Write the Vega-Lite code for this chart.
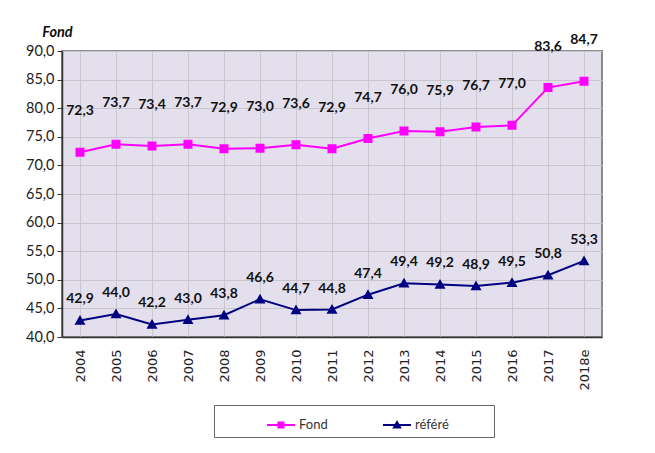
{
  "$schema": "https://vega.github.io/schema/vega-lite/v6.json",
  "autosize": "none",
  "width": 540,
  "height": 286,
  "padding": {"left": 62, "top": 51, "right": 53, "bottom": 116},
  "background": "white",
  "config": {
    "locale": {"number": {"decimal": ",", "thousands": " ", "grouping": [3], "currency": ["", " €"]}},
    "view": {"fill": "#E4DFEC", "stroke": "#8a8a8a", "strokeWidth": 2},
    "font": "Lato"
  },
  "data": {
    "values": [
      {"year": "2004", "series": "Fond", "value": 72.3},
      {"year": "2005", "series": "Fond", "value": 73.7},
      {"year": "2006", "series": "Fond", "value": 73.4},
      {"year": "2007", "series": "Fond", "value": 73.7},
      {"year": "2008", "series": "Fond", "value": 72.9},
      {"year": "2009", "series": "Fond", "value": 73.0},
      {"year": "2010", "series": "Fond", "value": 73.6},
      {"year": "2011", "series": "Fond", "value": 72.9},
      {"year": "2012", "series": "Fond", "value": 74.7},
      {"year": "2013", "series": "Fond", "value": 76.0},
      {"year": "2014", "series": "Fond", "value": 75.9},
      {"year": "2015", "series": "Fond", "value": 76.7},
      {"year": "2016", "series": "Fond", "value": 77.0},
      {"year": "2017", "series": "Fond", "value": 83.6},
      {"year": "2018e", "series": "Fond", "value": 84.7},
      {"year": "2004", "series": "référé", "value": 42.9},
      {"year": "2005", "series": "référé", "value": 44.0},
      {"year": "2006", "series": "référé", "value": 42.2},
      {"year": "2007", "series": "référé", "value": 43.0},
      {"year": "2008", "series": "référé", "value": 43.8},
      {"year": "2009", "series": "référé", "value": 46.6},
      {"year": "2010", "series": "référé", "value": 44.7},
      {"year": "2011", "series": "référé", "value": 44.8},
      {"year": "2012", "series": "référé", "value": 47.4},
      {"year": "2013", "series": "référé", "value": 49.4},
      {"year": "2014", "series": "référé", "value": 49.2},
      {"year": "2015", "series": "référé", "value": 48.9},
      {"year": "2016", "series": "référé", "value": 49.5},
      {"year": "2017", "series": "référé", "value": 50.8},
      {"year": "2018e", "series": "référé", "value": 53.3}
    ]
  },
  "encoding": {
    "x": {
      "field": "year", "type": "ordinal",
      "scale": {"type": "point", "padding": 0.5},
      "axis": {
        "title": null, "labelAngle": -90, "labelFont": "DejaVu Sans", "labelFontSize": 13,
        "labelColor": "#222", "ticks": false, "labelPadding": 12,
        "domainColor": "#333", "domainWidth": 1.5,
        "grid": true, "gridColor": "#c9c6ce", "gridWidth": 1
      }
    },
    "y": {
      "field": "value", "type": "quantitative",
      "scale": {"domain": [40, 90], "nice": false, "zero": false},
      "axis": {
        "values": [40, 45, 50, 55, 60, 65, 70, 75, 80, 85, 90],
        "format": ".1f",
        "title": "Fond", "titleAngle": 0, "titleAlign": "center", "titleBaseline": "alphabetic",
        "titleX": -5, "titleY": -15, "titleFont": "Lato", "titleFontSize": 14.5,
        "titleFontWeight": "bold", "titleFontStyle": "italic", "titleColor": "#111",
        "labelFont": "Lato", "labelFontSize": 14.5, "labelColor": "#222", "labelPadding": 3,
        "tickSize": 5, "tickColor": "#333", "domainColor": "#333", "domainWidth": 1.5,
        "grid": true, "gridColor": "#c9c6ce", "gridWidth": 1
      }
    }
  },
  "layer": [
    {
      "mark": {"type": "line", "strokeWidth": 2},
      "encoding": {
        "stroke": {
          "field": "series", "type": "nominal",
          "scale": {"domain": ["Fond", "référé"], "range": ["#FF00FF", "#000080"]}
        }
      }
    },
    {
      "mark": {"type": "point", "filled": true, "opacity": 1, "size": 2500, "strokeWidth": 0},
      "encoding": {
        "fill": {
          "field": "series", "type": "nominal",
          "scale": {"domain": ["Fond", "référé"], "range": ["#FF00FF", "#000080"]}
        },
        "stroke": {
          "field": "series", "type": "nominal"
        },
        "shape": {
          "field": "series", "type": "nominal",
          "scale": {"domain": ["Fond", "référé"], "range": ["M-1,0H1M-0.18,-0.18H0.18V0.18H-0.18Z", "M-1,0H1M0,-0.22L0.22,0.17H-0.22Z"]},
          "legend": {
            "orient": "none", "legendX": 152, "legendY": 354, "direction": "horizontal",
            "title": "\u2800", "titleOrient": "left", "titleFontSize": 13, "titlePadding": 37,
            "strokeColor": "#666", "padding": 5,
            "symbolSize": 784, "symbolStrokeWidth": 2, "symbolOpacity": 1,
            "labelFont": "Lato", "labelFontSize": 13, "labelColor": "#333", "labelOffset": 3,
            "labelExpr": "datum.label + '\u2800\u2800\u2800\u2800'",
            "columnPadding": 11
          }
        }
      }
    },
    {
      "transform": [{"filter": "datum.series === 'Fond'"}],
      "mark": {"type": "text", "dy": -41, "baseline": "middle", "font": "Lato", "fontSize": 14, "fontWeight": "bold", "color": "#111"},
      "encoding": {"text": {"field": "value", "type": "quantitative", "format": ".1f"}}
    },
    {
      "transform": [{"filter": "datum.series === 'référé'"}],
      "mark": {"type": "text", "dy": -21, "baseline": "middle", "font": "Lato", "fontSize": 14, "fontWeight": "bold", "color": "#111"},
      "encoding": {"text": {"field": "value", "type": "quantitative", "format": ".1f"}}
    }
  ]
}
